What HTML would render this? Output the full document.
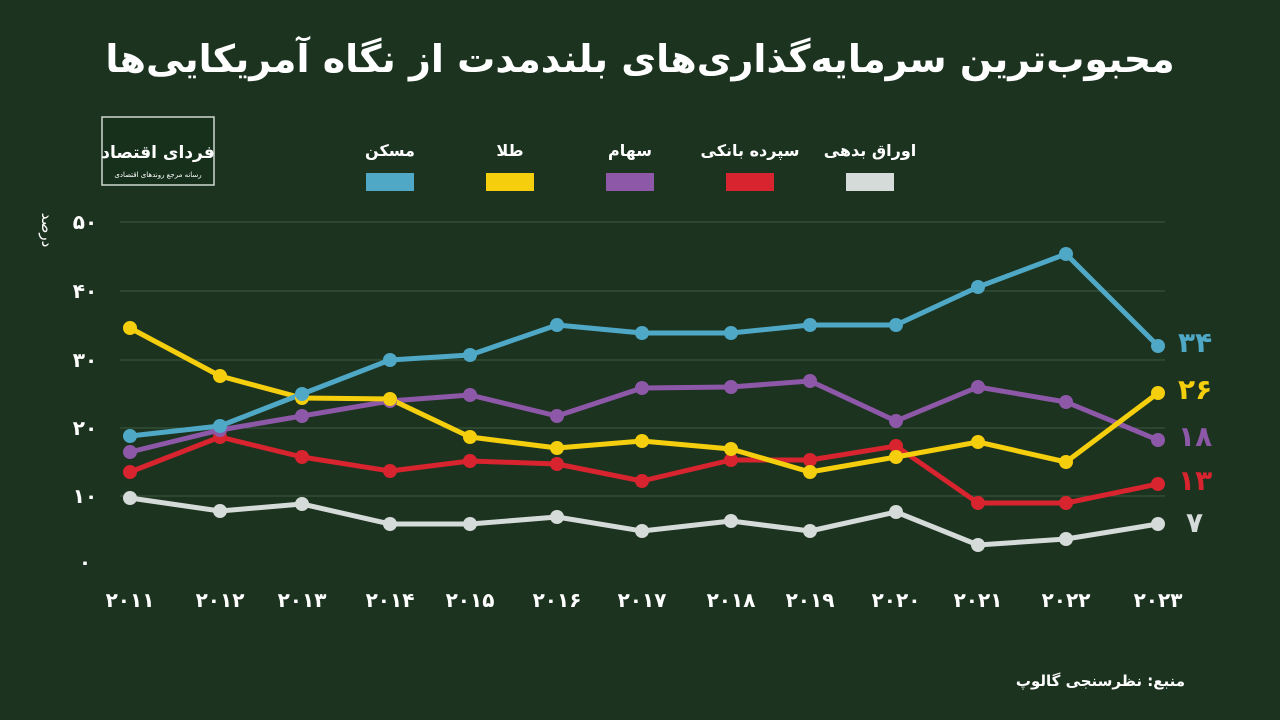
<!DOCTYPE html>
<html><head><meta charset="utf-8"><style>
body{margin:0;width:1280px;height:720px;background:#1c3320;overflow:hidden;font-family:"Liberation Sans","Noto Sans CJK SC",sans-serif}
</style></head><body>
<svg width="1280" height="720" xmlns="http://www.w3.org/2000/svg" style="position:absolute;left:0;top:0">
<rect width="1280" height="720" fill="#1c3320"/>
<text x="640" y="72" text-anchor="middle" fill="#fff" font-size="38" font-weight="bold" direction="rtl" font-family="DejaVu Sans,Noto Sans CJK SC,sans-serif">محبوب‌ترین سرمایه‌گذاری‌های بلندمدت از نگاه آمریکایی‌ها</text>
<rect x="102" y="117" width="112" height="68" fill="#17301b" stroke="#cfd8cf" stroke-width="1.5"/>
<text x="158" y="158" text-anchor="middle" fill="#fff" font-size="17" font-weight="bold" font-family="DejaVu Sans,sans-serif">فردای اقتصاد</text>
<text x="158" y="177" text-anchor="middle" fill="#fff" font-size="7" font-family="DejaVu Sans,sans-serif">رسانه مرجع روندهای اقتصادی</text>
<g font-size="16" font-weight="bold" fill="#fff" text-anchor="middle" font-family="DejaVu Sans,sans-serif">
<text x="390" y="156">مسکن</text><text x="510" y="156">طلا</text><text x="630" y="156">سهام</text><text x="750" y="156">سپرده بانکی</text><text x="870" y="156">اوراق بدهی</text></g>
<rect x="366" y="173" width="48" height="18" fill="#4fa8c6"/>
<rect x="486" y="173" width="48" height="18" fill="#f5cf0e"/>
<rect x="606" y="173" width="48" height="18" fill="#8e58a8"/>
<rect x="726" y="173" width="48" height="18" fill="#d7242f"/>
<rect x="846" y="173" width="48" height="18" fill="#d5dbd8"/>
<g stroke="#3c5a40" stroke-width="1">
<line x1="120" x2="1165" y1="222" y2="222"/><line x1="120" x2="1165" y1="291" y2="291"/><line x1="120" x2="1165" y1="360" y2="360"/><line x1="120" x2="1165" y1="428" y2="428"/><line x1="120" x2="1165" y1="496" y2="496"/></g>
<g fill="#fff" font-size="20" font-weight="bold" text-anchor="middle" font-family="DejaVu Sans,sans-serif">
<text x="85" y="229">۵۰</text><text x="85" y="298">۴۰</text><text x="85" y="367">۳۰</text><text x="85" y="435">۲۰</text><text x="85" y="503">۱۰</text><text x="85" y="569">۰</text>
<text x="130" y="607">۲۰۱۱</text><text x="220" y="607">۲۰۱۲</text><text x="302" y="607">۲۰۱۳</text><text x="390" y="607">۲۰۱۴</text><text x="470" y="607">۲۰۱۵</text><text x="557" y="607">۲۰۱۶</text><text x="642" y="607">۲۰۱۷</text><text x="731" y="607">۲۰۱۸</text><text x="810" y="607">۲۰۱۹</text><text x="896" y="607">۲۰۲۰</text><text x="978" y="607">۲۰۲۱</text><text x="1066" y="607">۲۰۲۲</text><text x="1158" y="607">۲۰۲۳</text></g>
<text transform="translate(42,230) rotate(90)" fill="#fff" font-size="15" text-anchor="middle" direction="rtl" font-family="DejaVu Sans,sans-serif">درصد</text>
<g fill="none" stroke-width="5" stroke-linejoin="round">
<polyline stroke="#d5dbd8" points="130,498 220,511 302,504 390,524 470,524 557,517 642,531 731,521 810,531 896,512 978,545 1066,539 1158,524"/>
<polyline stroke="#d7242f" points="130,472 220,437 302,457 390,471 470,461 557,464 642,481 731,460 810,460 896,446 978,503 1066,503 1158,484"/>
<polyline stroke="#8e58a8" points="130,452 220,430 302,416 390,401 470,395 557,416 642,388 731,387 810,381 896,421 978,387 1066,402 1158,440"/>
<polyline stroke="#f5cf0e" points="130,328 220,376 302,398 390,399 470,437 557,448 642,441 731,449 810,472 896,457 978,442 1066,462 1158,393"/>
<polyline stroke="#4fa8c6" points="130,436 220,426 302,394 390,360 470,355 557,325 642,333 731,333 810,325 896,325 978,287 1066,254 1158,346"/>
</g>
<g fill="#d5dbd8"><circle cx="130" cy="498" r="7"/><circle cx="220" cy="511" r="7"/><circle cx="302" cy="504" r="7"/><circle cx="390" cy="524" r="7"/><circle cx="470" cy="524" r="7"/><circle cx="557" cy="517" r="7"/><circle cx="642" cy="531" r="7"/><circle cx="731" cy="521" r="7"/><circle cx="810" cy="531" r="7"/><circle cx="896" cy="512" r="7"/><circle cx="978" cy="545" r="7"/><circle cx="1066" cy="539" r="7"/><circle cx="1158" cy="524" r="7"/></g>
<g fill="#d7242f"><circle cx="130" cy="472" r="7"/><circle cx="220" cy="437" r="7"/><circle cx="302" cy="457" r="7"/><circle cx="390" cy="471" r="7"/><circle cx="470" cy="461" r="7"/><circle cx="557" cy="464" r="7"/><circle cx="642" cy="481" r="7"/><circle cx="731" cy="460" r="7"/><circle cx="810" cy="460" r="7"/><circle cx="896" cy="446" r="7"/><circle cx="978" cy="503" r="7"/><circle cx="1066" cy="503" r="7"/><circle cx="1158" cy="484" r="7"/></g>
<g fill="#8e58a8"><circle cx="130" cy="452" r="7"/><circle cx="220" cy="430" r="7"/><circle cx="302" cy="416" r="7"/><circle cx="390" cy="401" r="7"/><circle cx="470" cy="395" r="7"/><circle cx="557" cy="416" r="7"/><circle cx="642" cy="388" r="7"/><circle cx="731" cy="387" r="7"/><circle cx="810" cy="381" r="7"/><circle cx="896" cy="421" r="7"/><circle cx="978" cy="387" r="7"/><circle cx="1066" cy="402" r="7"/><circle cx="1158" cy="440" r="7"/></g>
<g fill="#f5cf0e"><circle cx="130" cy="328" r="7"/><circle cx="220" cy="376" r="7"/><circle cx="302" cy="398" r="7"/><circle cx="390" cy="399" r="7"/><circle cx="470" cy="437" r="7"/><circle cx="557" cy="448" r="7"/><circle cx="642" cy="441" r="7"/><circle cx="731" cy="449" r="7"/><circle cx="810" cy="472" r="7"/><circle cx="896" cy="457" r="7"/><circle cx="978" cy="442" r="7"/><circle cx="1066" cy="462" r="7"/><circle cx="1158" cy="393" r="7"/></g>
<g fill="#4fa8c6"><circle cx="130" cy="436" r="7"/><circle cx="220" cy="426" r="7"/><circle cx="302" cy="394" r="7"/><circle cx="390" cy="360" r="7"/><circle cx="470" cy="355" r="7"/><circle cx="557" cy="325" r="7"/><circle cx="642" cy="333" r="7"/><circle cx="731" cy="333" r="7"/><circle cx="810" cy="325" r="7"/><circle cx="896" cy="325" r="7"/><circle cx="978" cy="287" r="7"/><circle cx="1066" cy="254" r="7"/><circle cx="1158" cy="346" r="7"/></g>
<g font-size="28" font-weight="bold" font-family="DejaVu Sans,sans-serif">
<text x="1178" y="352" fill="#4fa8c6">۳۴</text><text x="1178" y="399" fill="#f5cf0e">۲۶</text><text x="1178" y="446" fill="#8e58a8">۱۸</text><text x="1178" y="490" fill="#d7242f">۱۳</text><text x="1186" y="532" fill="#d5dbd8">۷</text></g>
<text x="1185" y="686" text-anchor="start" direction="rtl" fill="#fff" font-size="15" font-weight="bold" font-family="DejaVu Sans,sans-serif">منبع: نظرسنجی گالوپ</text>
</svg>
</body></html>
